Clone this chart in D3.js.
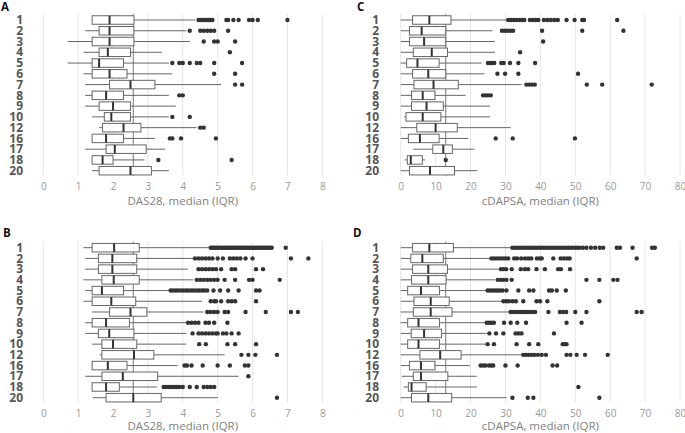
<!DOCTYPE html>
<html>
<head>
<meta charset="utf-8">
<script src="https://cdn.jsdelivr.net/npm/d3@7"></script>
<style>
  body { margin: 0; background: #fff; }
  svg { font-family: "Open Sans", sans-serif; }
</style>
</head>
<body>
<svg id="chart" width="685" height="433"></svg>
<script>
// groups shown on the y axis
var groups = ["1", "2", "3", "4", "5", "6", "7", "8", "9", "10", "12", "16", "17", "18", "20"];

var dasTicks = [0, 1, 2, 3, 4, 5, 6, 7, 8];
var dapsaTicks = [0, 10, 20, 30, 40, 50, 60, 70, 80];

// [whisker low, q1, median, q3, whisker high]
var statsA = [
  [1.4, 1.4, 1.9, 2.6, 4.35], [1.2, 1.6, 1.9, 2.6, 4.1], [0.7, 1.4, 1.9, 2.6, 4.2],
  [1.15, 1.6, 1.85, 2.5, 3.4], [0.7, 1.4, 1.6, 2.3, 3.6], [1.15, 1.4, 1.9, 2.4, 3.7],
  [1.2, 1.9, 2.5, 3.2, 5.1], [1.2, 1.4, 1.8, 2.3, 3.6], [1.2, 1.6, 2.0, 2.5, 3.8],
  [1.4, 1.75, 1.95, 2.5, 3.6], [1.6, 1.7, 2.3, 2.8, 4.4], [1.4, 1.4, 1.8, 2.3, 3.2],
  [1.2, 1.8, 2.05, 2.95, 3.5], [1.4, 1.4, 1.7, 2.0, 2.9], [1.4, 1.6, 2.5, 3.1, 3.6]
];
var outliersA = [
  [4.45, 4.5, 4.55, 4.6, 4.65, 4.7, 4.75, 4.8, 4.85, 5.25, 5.3, 5.45, 5.6, 5.9, 6.0, 6.15, 7.0],
  [4.2, 4.5, 4.6, 4.7, 4.8, 4.9, 5.3],
  [4.6, 4.9, 5.0, 5.5],
  [5.35],
  [3.7, 3.9, 4.0, 4.2, 4.4, 4.5, 4.9, 5.7],
  [4.9, 5.5],
  [5.5, 5.7],
  [3.9, 4.0],
  [],
  [3.7, 4.2],
  [4.5, 4.6],
  [3.63, 3.7, 3.95, 4.95],
  [],
  [3.3, 5.4],
  []
];

var statsB = [
  [1.15, 1.4, 2.03, 2.75, 4.78], [1.2, 1.58, 1.98, 2.68, 4.3], [1.2, 1.58, 1.98, 2.68, 4.15],
  [1.15, 1.68, 2.02, 2.75, 4.3], [1.2, 1.4, 1.68, 2.3, 3.6], [1.15, 1.4, 1.95, 2.65, 4.55],
  [1.4, 1.9, 2.5, 2.97, 4.6], [1.2, 1.4, 1.8, 2.47, 4.1], [1.2, 1.58, 1.89, 2.6, 4.1],
  [1.4, 1.68, 2.0, 2.68, 4.1], [1.62, 1.68, 2.6, 3.17, 5.2], [1.4, 1.4, 1.85, 2.4, 3.85],
  [1.2, 1.68, 2.28, 3.28, 5.6], [1.4, 1.4, 1.8, 2.18, 3.26], [1.42, 1.8, 2.58, 3.38, 5.0]
];
var outliersB = [
  [4.8, 4.85, 4.9, 4.95, 5.0, 5.05, 5.1, 5.15, 5.2, 5.25, 5.3, 5.35, 5.4, 5.45, 5.5, 5.55, 5.6, 5.65,
   5.7, 5.75, 5.8, 5.85, 5.9, 5.95, 6.0, 6.05, 6.1, 6.15, 6.2, 6.25, 6.3, 6.35, 6.4, 6.45, 6.5, 6.55, 6.95],
  [4.35, 4.45, 4.55, 4.65, 4.75, 4.85, 5.0, 5.15, 5.35, 5.45, 5.55, 5.65, 5.8, 6.0, 7.1, 7.6],
  [4.45, 4.55, 4.65, 4.75, 4.85, 4.95, 5.1, 5.4, 5.5, 6.1, 6.3],
  [4.4, 4.5, 4.6, 4.7, 4.8, 4.9, 5.0, 5.2, 5.5, 5.9, 6.0, 6.78],
  [3.65, 3.72, 3.8, 3.87, 3.95, 4.02, 4.1, 4.17, 4.25, 4.32, 4.4, 4.47, 4.55, 4.62, 4.7, 4.88, 5.07, 5.3, 5.6, 6.1, 6.2],
  [4.8, 4.9, 4.95, 5.1, 5.3, 5.4, 5.5, 6.1],
  [4.7, 4.8, 4.9, 5.0, 5.2, 5.3, 5.8, 6.38, 7.1, 7.3],
  [4.15, 4.25, 4.35, 4.45, 4.65, 4.75, 4.9, 5.28],
  [4.28, 4.45, 4.55, 4.65, 4.75, 4.85, 4.95, 5.0, 5.15, 5.25, 5.4, 5.6],
  [4.47, 4.66, 5.28, 5.5, 6.1],
  [5.68, 5.88, 6.08, 6.7],
  [4.05, 4.12, 4.25, 4.57, 5.0, 5.35, 5.78, 5.88],
  [5.88],
  [3.45, 3.52, 3.6, 3.67, 3.75, 3.82, 3.9, 4.0, 4.2, 4.4, 4.6, 4.7, 4.8, 4.9],
  [6.7]
];

var statsC = [
  [0, 3.4, 8.2, 14.4, 30.5], [0, 2.5, 6, 12.9, 26.3], [0, 2.5, 6.7, 12.9, 27],
  [0, 3.6, 8.9, 13.4, 27], [0, 1.7, 4.8, 11, 23.2], [0, 3.4, 7.9, 12.9, 24],
  [0, 3.8, 9.4, 16.5, 34.6], [0, 3.1, 6.3, 9.8, 18.6], [0, 3.1, 7.4, 12.2, 25.6],
  [1, 1.5, 6.3, 11.5, 25.6], [0, 4.6, 10, 16.2, 31.5], [0, 2.2, 5.5, 11, 19.4],
  [3.6, 9.2, 12.2, 14.8, 21.1], [1.2, 1.9, 2.9, 6.2, 7], [0, 2.5, 8.4, 15.4, 22]
];
var outliersC = [
  [30.8, 31.6, 32.4, 33.2, 34, 34.8, 35.4, 37, 37.8, 38.6, 39.4, 41, 42, 43, 44, 45, 47.5, 49.8, 52, 52.5, 62],
  [29, 29.8, 30.6, 31.4, 32.2, 40.5, 52, 63.8],
  [40.8],
  [34.2],
  [25, 25.6, 26.2, 26.8, 28.8, 29.5, 31.3, 33.7, 38.5],
  [27.7, 29.9, 33.7, 50.8],
  [36, 36.8, 37.6, 38.4, 53.3, 57.7, 71.9],
  [23.6, 24.3, 25, 25.8],
  [],
  [],
  [],
  [27.2, 32.1, 49.9],
  [],
  [12.9],
  []
];

var statsD = [
  [0, 3.4, 8.2, 15.1, 31.8], [0, 2.9, 6.2, 12.2, 25.6], [0, 3.4, 7.9, 13.4, 28],
  [0, 3.1, 7.9, 13, 27], [0, 2, 5.8, 11.1, 24.6], [0, 3.8, 8.6, 13.9, 29.1],
  [0, 3.6, 8.6, 14.7, 31.3], [0, 2, 5.1, 11.1, 23.9], [0, 3, 6.7, 11.7, 24.6],
  [0, 2, 5.1, 11.1, 24.6], [0, 5.5, 11.3, 17.3, 34.6], [0, 2.5, 5.8, 9.8, 19.8],
  [0.3, 3.6, 5.8, 13.5, 21.8], [0.8, 2.2, 3.1, 7.3, 21.8], [0, 3.1, 7.9, 14.6, 30.3]
];
var outliersD = [
  [32, 32.8, 33.6, 34.4, 35.2, 36, 36.8, 37.6, 38.4, 39.2, 40, 40.8, 41.6, 42.4, 43.2, 44, 44.8, 45.6,
   46.4, 47.2, 48, 48.8, 49.6, 50.4, 51.2, 52.2, 53.2, 54.5, 55.7, 57, 58, 61.9, 62.8, 66.4, 72, 72.8],
  [26, 26.8, 27.6, 28.4, 29.2, 30, 30.8, 32.5, 33.3, 34.5, 35.6, 36.5, 37.4, 39, 39.8, 40.4, 43.7, 45.8, 46.7, 47.6, 48.4, 67.6],
  [28.7, 29.4, 30.2, 31.8, 34.4, 35.6, 36.5, 38.9, 41.3, 45.1, 45.9, 48.5],
  [27.8, 28.6, 29.4, 30.3, 31.8, 53.2, 56.9, 60.9, 62.1],
  [24.9, 25.6, 26.3, 27, 27.7, 28.4, 29.2, 30.3, 33.7, 36.8, 38, 42.5, 43.3, 44.7, 47.3],
  [29.4, 30.2, 31, 32, 33, 35.1, 38.9, 39.9, 42, 56.9],
  [31.5, 32.3, 33.1, 33.9, 34.7, 35.5, 36.2, 36.8, 37.6, 38.5, 42.3, 45.6, 46.5, 47.4, 50, 53.2, 67.6, 69],
  [24.6, 25.3, 26, 26.7, 29.6, 31.5, 33.4, 35.9, 47.5, 51.8],
  [25.4, 27.3, 29.4, 32.9, 33.7, 34.6, 43.9],
  [24.9, 26.7, 33.2, 36.8, 39.4, 46.4, 47, 47.5],
  [35.1, 35.9, 36.7, 37.5, 38.3, 39.3, 40.4, 41.6, 47.5, 48.6, 50.4, 52.8, 59.3],
  [22.9, 23.6, 24.3, 25.3, 26, 26.5, 30, 33.5, 43.5, 44.8],
  [],
  [50.9],
  [32, 36.4, 38, 56.9]
];

// overall median reference lines
var refDAS = 2.58;
var refDAPSA = 12.9;

var svg = d3.select("#chart");

function drawPanel(opt) {
  var x = d3.scaleLinear().domain(opt.domain).range(opt.xRange),
      y = d3.scalePoint().domain(groups).range(opt.yRange),
      g = svg.append("g"),
      bh = 8.5;

  // grid
  g.selectAll("line.grid")
    .data(opt.ticks)
    .enter().append("line")
      .attr("x1", d => x(d)).attr("x2", d => x(d))
      .attr("y1", opt.yRange[0] - 6).attr("y2", opt.yRange[1] + 5)
      .style("stroke", "#e6e6e6")
      .style("stroke-width", 1);

  // reference line
  g.append("line")
    .attr("x1", x(opt.ref)).attr("x2", x(opt.ref))
    .attr("y1", opt.yRange[0] - 6).attr("y2", opt.yRange[1] + 5)
    .style("stroke", "#777")
    .style("stroke-width", 1);

  var rows = g.selectAll("g.row")
    .data(opt.stats)
    .enter().append("g")
      .attr("transform", (d, i) => "translate(0," + y(groups[i]) + ")");

  rows.append("line")
    .attr("x1", d => x(d[0])).attr("x2", d => x(d[4]))
    .style("stroke", "#666").style("stroke-width", 1);

  rows.append("rect")
    .attr("x", d => x(d[1]))
    .attr("width", d => x(d[3]) - x(d[1]))
    .attr("y", -bh / 2).attr("height", bh)
    .style("fill", "#fff").style("stroke", "#666").style("stroke-width", 1);

  rows.append("line")
    .attr("x1", d => x(d[2])).attr("x2", d => x(d[2]))
    .attr("y1", -bh / 2).attr("y2", bh / 2)
    .style("stroke", "#333").style("stroke-width", 2);

  rows.each(function(d, i) {
    d3.select(this).selectAll("circle")
      .data(opt.outliers[i])
      .enter().append("circle")
        .attr("cx", v => x(v))
        .attr("cy", 0)
        .attr("r", 2.2)
        .style("fill", "#333");
  });

  // group labels
  g.selectAll("text.grp")
    .data(groups)
    .enter().append("text")
      .attr("x", opt.labelX)
      .attr("y", d => y(d))
      .attr("dy", "0.35em")
      .attr("text-anchor", "end")
      .style("font-size", "12px")
      .style("font-weight", "bold")
      .style("fill", "#555")
      .text(d => d);

  var xAxis = d3.axisBottom(x).tickValues(opt.ticks).tickSize(0).tickPadding(0);
  var ax = g.append("g")
    .attr("transform", "translate(0," + (opt.yRange[1] + 12) + ")")
    .call(xAxis);
  ax.select(".domain").remove();
  ax.selectAll("text")
    .style("font-family", "Open Sans")
    .style("font-size", "10px")
    .style("fill", "#999");

  g.append("text")
    .attr("x", (opt.xRange[0] + opt.xRange[1]) / 2)
    .attr("y", opt.yRange[1] + opt.titleOff)
    .attr("text-anchor", "middle")
    .style("font-size", "11.5px")
    .style("fill", "#808080")
    .text(opt.title);

  svg.append("text")
    .attr("x", opt.letterX).attr("y", opt.letterY)
    .style("font-size", "11.5px")
    .style("font-weight", "bold")
    .style("fill", "#111")
    .text(opt.letter);
}

drawPanel({ letter: "A", letterX: 1, letterY: 11, domain: [0, 8], ticks: dasTicks, xRange: [43.3, 322.3],
  yRange: [20, 170.7], labelX: 23, stats: statsA, outliers: outliersA, ref: refDAS, titleOff: 34,
  title: "DAS28, median (IQR)" });
drawPanel({ letter: "B", letterX: 3, letterY: 237, domain: [0, 8], ticks: dasTicks, xRange: [43.3, 322.3],
  yRange: [247.7, 397.7], labelX: 23, stats: statsB, outliers: outliersB, ref: refDAS, titleOff: 32.3,
  title: "DAS28, median (IQR)" });
drawPanel({ letter: "C", letterX: 357, letterY: 11, domain: [0, 80], ticks: dapsaTicks, xRange: [400.7, 680],
  yRange: [20, 170.7], labelX: 379, stats: statsC, outliers: outliersC, ref: refDAPSA, titleOff: 34,
  title: "cDAPSA, median (IQR)" });
drawPanel({ letter: "D", letterX: 353, letterY: 237, domain: [0, 80], ticks: dapsaTicks, xRange: [400.7, 680],
  yRange: [247.7, 397.7], labelX: 379, stats: statsD, outliers: outliersD, ref: refDAPSA, titleOff: 32.3,
  title: "cDAPSA, median (IQR)" });
</script>
</body>
</html>
